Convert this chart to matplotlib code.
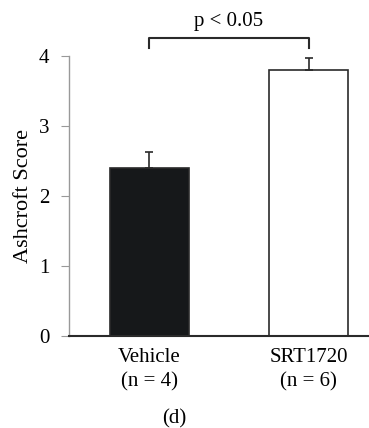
"""Ashcroft score, vehicle vs SRT1720, panel (d)."""

import matplotlib
matplotlib.use("Agg")
import matplotlib.pyplot as plt

plt.rcParams["font.family"] = ["Liberation Serif", "DejaVu Serif"]

groups = ["Vehicle\n(n = 4)", "SRT1720\n(n = 6)"]
means = [2.4, 3.8]
errors = [0.23, 0.17]
colors = ["#16181a", "white"]
yticks = [0, 1, 2, 3, 4]

fig = plt.figure(figsize=(3.69, 4.28), dpi=100)
ax = fig.add_axes([69 / 369, 92 / 428, 300 / 369, 280 / 428])

pos = list(range(len(groups)))
ax.bar(pos, means, width=0.5, color=colors, edgecolor="#2a2a2a", linewidth=1.2, zorder=2)
ax.errorbar(pos, means, yerr=[[0] * len(errors), errors], fmt="none",
            ecolor="#2a2a2a", elinewidth=1.2, capsize=3, capthick=1.2, zorder=3)

ax.set_xlim(-0.506, 1.38)
ax.set_ylim(0, 4)
ax.set_yticks(yticks)
ax.set_xticks(pos)
ax.set_xticklabels(groups, fontsize=15, linespacing=1.3)
ax.tick_params(axis="x", length=0, pad=9)
ax.tick_params(axis="y", length=6, color="#999999", labelsize=15, pad=8)
ax.set_ylabel("Ashcroft Score", fontsize=16, labelpad=4)

for s in ["top", "right"]:
    ax.spines[s].set_visible(False)
ax.spines["left"].set_color("#999999")
ax.spines["left"].set_linewidth(1.0)
ax.spines["bottom"].set_color("#2a2a2a")
ax.spines["bottom"].set_linewidth(1.5)

# significance bracket
ax.plot([0, 0, 1, 1], [4.11, 4.26, 4.26, 4.11], color="#2a2a2a", lw=1.5, clip_on=False)
ax.text(0.5, 4.49, "p < 0.05", ha="center", va="center", fontsize=15)

fig.text(174 / 369, 1 - 419 / 428, "(d)", ha="center", va="center", fontsize=15)

fig.savefig("out.png", dpi=100)
